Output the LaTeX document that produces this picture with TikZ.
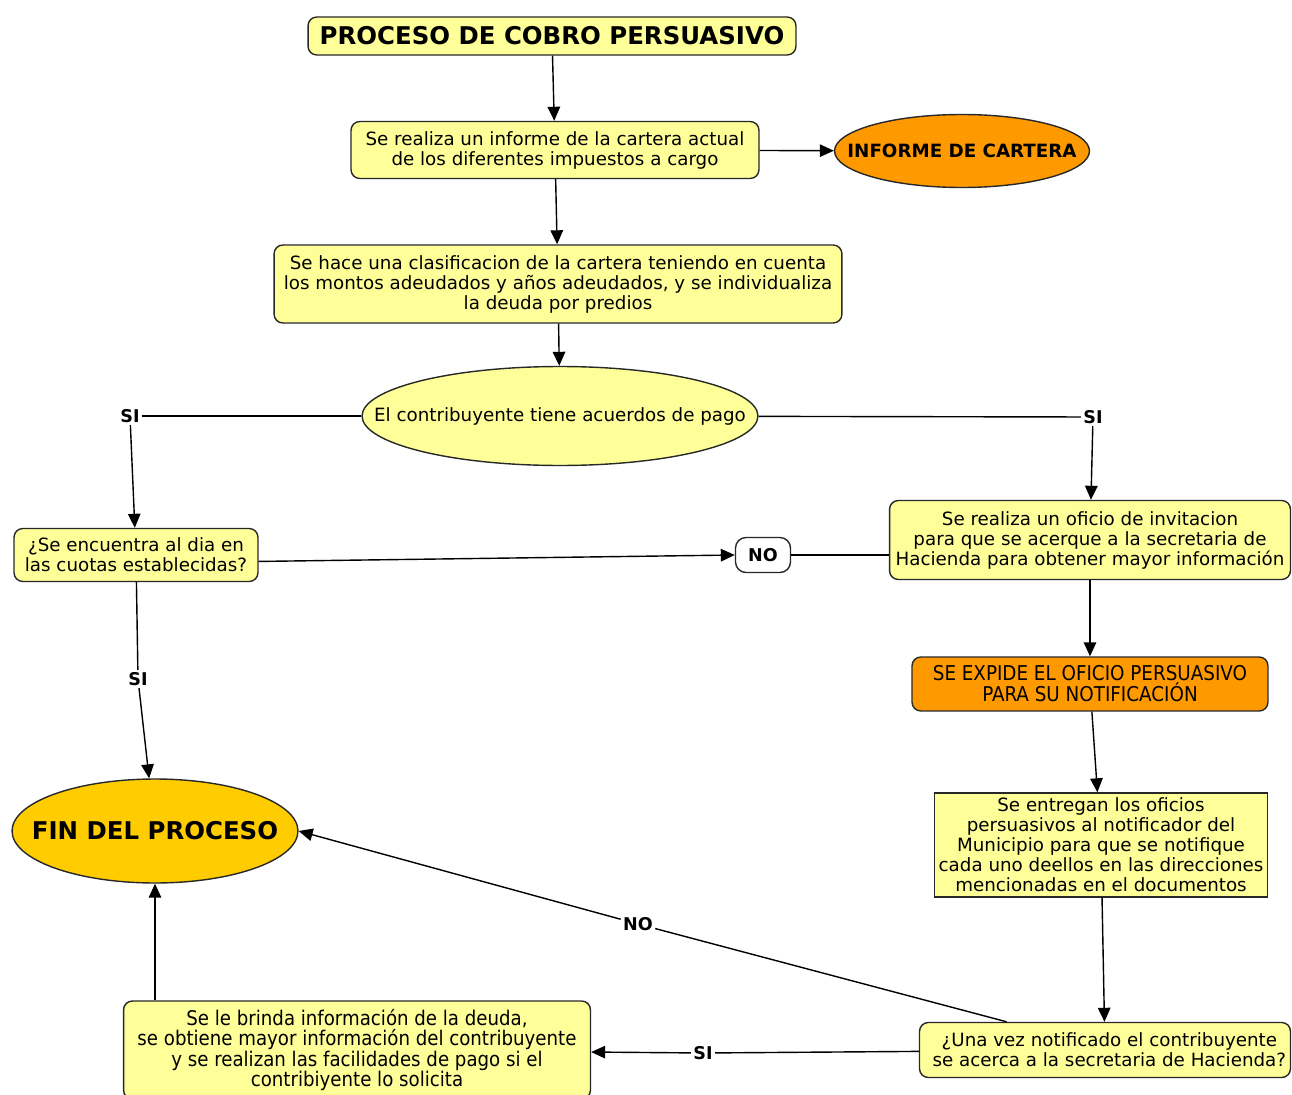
\documentclass[tikz,border=0pt]{standalone}
\usepackage{fontspec}
\setmainfont{DejaVu Sans}
\newfontfamily\condfont{DejaVu Sans Condensed}
\usepackage{tikz}
\usetikzlibrary{shapes.geometric,arrows.meta,positioning}
\definecolor{paleyellow}{RGB}{255,255,153}
\definecolor{deeporange}{RGB}{255,153,0}
\definecolor{goldfin}{RGB}{255,204,0}
\definecolor{edgegray}{RGB}{40,40,40}
\newcommand{\flattxt}[1]{\makebox[0pt][c]{#1}}

\begin{document}
\begin{tikzpicture}[x=0.02cm,y=-0.02cm,>={Triangle[length=2.8mm,width=2.5mm]},line width=0.8pt]
  \tikzstyle{box}=[rectangle,rounded corners=5pt,draw=edgegray,fill=paleyellow,align=center,inner sep=0pt,font=\fontsize{10.4}{11.4}\selectfont]
  \tikzstyle{elli}=[ellipse,draw=edgegray,fill=paleyellow,inner sep=0pt,font=\fontsize{10.4}{11.4}\selectfont]
  \tikzstyle{lbl}=[fill=white,inner sep=1pt,font=\fontsize{10}{11}\selectfont\bfseries]
  \useasboundingbox (0,0) rectangle (1292,1095);

  % nodes
  \node[box,minimum width=9.76cm,minimum height=0.76cm,font=\fontsize{13.9}{15}\selectfont\bfseries] (titulo) at (552,36) {PROCESO DE COBRO PERSUASIVO};
  \node[box,minimum width=8.16cm,minimum height=1.14cm] (informe) at (555,150) {Se realiza un informe de la cartera actual\\de los diferentes impuestos a cargo};
  \node[elli,fill=deeporange,minimum width=5.1cm,minimum height=1.46cm,font=\fontsize{10.4}{11}\selectfont\bfseries] (cartera) at (962,151) {\flattxt{INFORME DE CARTERA}};
  \node[box,minimum width=11.36cm,minimum height=1.56cm] (clasif) at (558,284) {Se hace una clasificacion de la cartera teniendo en cuenta\\los montos adeudados y años adeudados, y se individualiza\\la deuda por predios};
  \node[elli,minimum width=7.92cm,minimum height=1.98cm] (acuerdo) at (560,416) {\flattxt{El contribuyente tiene acuerdos de pago}};
  \node[box,minimum width=4.88cm,minimum height=1.06cm] (aldia) at (136,555) {¿Se encuentra al dia en\\las cuotas establecidas?};
  \node[box,fill=white,rounded corners=6pt,minimum width=1.1cm,minimum height=0.7cm,font=\fontsize{10}{11}\selectfont\bfseries] (nobox) at (763,555) {NO};
  \node[box,minimum width=8.02cm,minimum height=1.58cm] (oficio) at (1090,540) {Se realiza un oficio de invitacion\\para que se acerque a la secretaria de\\Hacienda para obtener mayor información};
  \node[box,fill=deeporange,minimum width=7.12cm,minimum height=1.08cm,font=\condfont\fontsize{11.6}{12}\selectfont] (expide) at (1090,684) {SE EXPIDE EL OFICIO PERSUASIVO\\PARA SU NOTIFICACIÓN};
  \node[elli,fill=goldfin,minimum width=5.72cm,minimum height=2.08cm,font=\fontsize{13.9}{15}\selectfont\bfseries] (fin) at (155,831) {\flattxt{FIN DEL PROCESO}};
  \node[box,rounded corners=0pt,minimum width=6.66cm,minimum height=2.08cm] (entregan) at (1101,845) {Se entregan los oficios\\persuasivos al notificador del\\Municipio para que se notifique\\cada uno deellos en las direcciones\\mencionadas en el documentos};
  \node[box,minimum width=7.42cm,minimum height=1.1cm] (unavez) at (1105,1050) {\hspace*{5pt}¿Una vez notificado el contribuyente\\\hspace*{5pt}se acerca a la secretaria de Hacienda?};
  \node[box,minimum width=9.34cm,minimum height=1.96cm,font=\condfont\fontsize{11.5}{11.6}\selectfont] (brinda) at (357,1050) {Se le brinda información de la deuda,\\se obtiene mayor información del contribuyente\\y se realizan las facilidades de pago si el\\contribiyente lo solicita};

  % labels on the connectors
  \node[lbl] (siIzq) at (130,416) {SI};
  \node[lbl] (siDer) at (1093,417) {SI};
  \node[lbl] (siFin) at (138,679) {SI};
  \node[lbl] (noFin) at (638,924) {NO};
  \node[lbl] (siBaj) at (703,1053) {SI};

  % connectors
  \draw[->] (titulo) -- (informe);
  \draw[->] (informe) -- (cartera);
  \draw[->] (informe) -- (clasif);
  \draw[->] (clasif) -- (acuerdo);
  \draw (acuerdo) -- (siIzq);
  \draw[->] (siIzq) -- (aldia);
  \draw (acuerdo) -- (siDer);
  \draw[->] (siDer) -- (oficio);
  \draw[->] (aldia.-3) -- (nobox.west);
  \draw (nobox.east) -- (nobox.east -| oficio.west);
  \draw (aldia) -- (siFin);
  \draw[->] (siFin) -- (fin);
  \draw[->] (oficio) -- (expide);
  \draw[->] (expide) -- (entregan);
  \draw[->] (entregan) -- (unavez);
  \draw (unavez.164) -- (noFin);
  \draw[->] (noFin) -- (fin.east);
  \draw (unavez) -- (siBaj);
  \draw[->] (siBaj) -- (brinda);
  \draw[->] (brinda.north -| fin.south) -- (fin.south);
\end{tikzpicture}
\end{document}
